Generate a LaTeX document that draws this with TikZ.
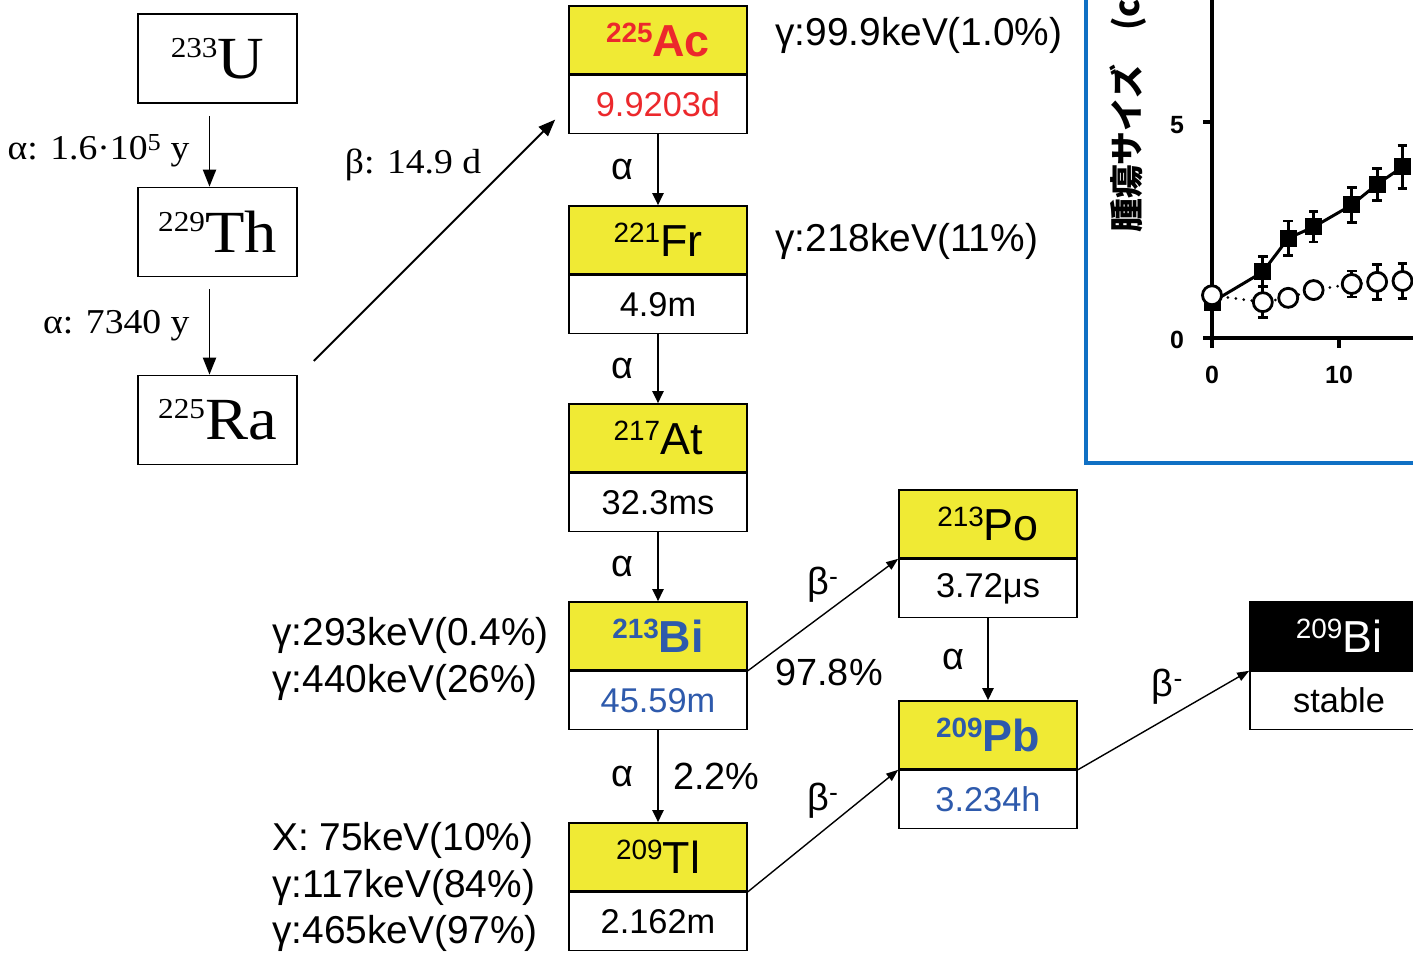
\documentclass[tikz,border=0pt]{standalone}
\usepackage{fontspec}
\setmainfont{Liberation Sans}
\newfontfamily\tms[FakeStretch=1.08]{Liberation Serif}
\newfontfamily\cjk{Noto Sans CJK JP}
\usetikzlibrary{arrows.meta,positioning}
\definecolor{nyellow}{RGB}{240,234,52}
\definecolor{nred}{RGB}{236,40,44}
\definecolor{nblue}{RGB}{46,90,172}
\definecolor{frameblue}{RGB}{16,112,196}
\newcommand{\fsz}[1]{\fontsize{#1}{#1}\selectfont}
\newcommand{\iso}[2]{\raisebox{14bp}{\fsz{28}#1}#2}
\newcommand{\isot}[2]{\raisebox{21bp}{\fsz{29}#1}#2}

\begin{document}
\begin{tikzpicture}[
  x=1bp, y=-1bp,
  lbox/.style={draw, line width=1.6bp, minimum width=159bp,
    minimum height=89bp, inner sep=0pt, font=\tms\fsz{60}},
  nucl/.style={draw, line width=1.6bp, fill=nyellow, minimum width=178bp,
    minimum height=68bp, inner sep=0pt, font=\fsz{45}},
  half/.style={draw, line width=1.6bp, fill=white, minimum width=178bp,
    minimum height=58bp, inner sep=0pt, font=\fsz{34.5}, below=0pt of #1},
  arrow/.style={-{Triangle[length=12bp, width=11bp]}, line width=2.3bp},
  diag/.style={-{Triangle[length=12bp, width=9bp]}, line width=1.4bp},
  tarrow/.style={-{Triangle[length=17bp, width=13bp]}, line width=1.9bp},
  lab/.style={font=\fsz{38}, inner sep=0pt},
  glab/.style={font=\fontsize{39}{47}\selectfont, anchor=west, align=left,
    inner sep=0pt},
  tlab/.style={font=\tms\fsz{35}, inner sep=0pt},
  ticklab/.style={font=\bfseries\fsz{25}, inner sep=0pt},
]
  \useasboundingbox (0,0) rectangle (1413,954);

  % Tumour size plot (cut off)
  \draw[frameblue, line width=3.2bp] (1086,-20) rectangle (1440,463);
  \node[rotate=90, anchor=west, font=\cjk\bfseries\fsz{34}, inner sep=0pt]
    (ylab) at (1128,233) {腫瘍サイズ　(c};
  \begin{scope}[shift={(1212,338)}, x=12.7bp, y=43.2bp]
    \draw[line width=3.2bp] (0,10) -- (0,0) -- (17,0);
    \draw[line width=3.2bp] (-0.7,0) -- (0,0) (-0.7,5) -- (0,5);
    \draw[line width=3.2bp] (0,0) -- (0,-0.22) (10,0) -- (10,-0.22);
    \node[ticklab] (y5) at (-2.76,4.93) {5};
    \node[ticklab] (y0) at (-2.76,-0.05) {0};
    \node[ticklab] (x0) at (0,-0.86) {0};
    \node[ticklab] (x10) at (10,-0.86) {10};
    % error bars
    \foreach \d/\v/\e in {4/1.53/0.35, 6/2.31/0.4, 8/2.57/0.35,
        11/3.08/0.4, 13/3.56/0.37, 15/3.96/0.5,
        4/0.83/0.36, 8/1.11/0.12, 11/1.25/0.3, 13/1.30/0.4, 15/1.32/0.4}
      \draw[line width=2.8bp] (\d,\v-\e) -- (\d,\v+\e)
        ({\d-0.38},\v-\e) -- ({\d+0.38},\v-\e)
        ({\d-0.38},\v+\e) -- ({\d+0.38},\v+\e);
    \draw[line width=3bp] plot coordinates {(0,0.83) (4,1.53) (6,2.31)
      (8,2.57) (11,3.08) (13,3.56) (15,3.96)};
    \draw[line width=3bp, dash pattern=on 0pt off 8bp, line cap=round]
      plot coordinates {(0,0.99) (4,0.83) (6,0.93) (8,1.11) (11,1.25)
      (13,1.30) (15,1.32)};
    \foreach \d/\v in {0/0.83, 4/1.53, 6/2.31, 8/2.57, 11/3.08, 13/3.56,
        15/3.96}
      \fill (\d,\v) ++(-8.5bp,-8.5bp) rectangle ++(17bp,17bp);
    \foreach \d/\v in {0/0.99, 4/0.83, 6/0.93, 8/1.11, 11/1.25, 13/1.30,
        15/1.32}
      \draw[line width=2.8bp, fill=white] (\d,\v) circle[radius=9.5bp];
  \end{scope}

  % Actinium chain
  \node[nucl] (ac) at (658,40) {\color{nred}\bfseries\iso{225}{Ac}};
  \node[half=ac, text=nred] (acT) {9.9203d};
  \node[nucl] (fr) at (658,240) {\iso{221}{Fr}};
  \node[half=fr] (frT) {4.9m};
  \node[nucl] (ast) at (658,438) {\iso{217}{At}};
  \node[half=ast] (astT) {32.3ms};
  \node[nucl] (bi) at (658,636) {\color{nblue}\bfseries\iso{213}{Bi}};
  \node[half=bi, text=nblue] (biT) {45.59m};
  \node[nucl] (tl) at (658,857) {\iso{209}{Tl}};
  \node[half=tl] (tlT) {2.162m};
  \node[nucl] (po) at (988,524) {\iso{213}{Po}};
  \node[half=po] (poT) {3.72μs};
  \node[nucl] (pb) at (988,735) {\color{nblue}\bfseries\iso{209}{Pb}};
  \node[half=pb, text=nblue] (pbT) {3.234h};
  \node[nucl, fill=black, text=white] (bis) at (1339,636) {\iso{209}{Bi}};
  \node[half=bis] (bisT) {stable};

  \draw[arrow] (acT) -- (fr) node[lab, midway, left=23bp] {α};
  \draw[arrow] (frT) -- (ast) node[lab, midway, left=23bp] {α};
  \draw[arrow] (astT) -- (bi) node[lab, midway, left=23bp] {α};
  \draw[arrow] (biT) -- (tl) node[lab, midway, left=23bp] {α}
    node[lab, midway, right=14bp] {2.2\%};
  \draw[arrow] (poT) -- (pb) node[lab, midway, left=22bp] {α};
  \draw[diag] (bi.south east) -- (po.south west)
    node[lab, midway, above=12bp] {β\textsuperscript{-}};
  \draw[diag] (tl.south east) -- (pb.south west)
    node[lab, midway, above=12bp] {β\textsuperscript{-}};
  \draw[diag] (pb.south east) -- (bis.south west)
    node[lab, midway, above=15bp, xshift=4bp] {β\textsuperscript{-}};
  \node[lab] (brPo) at (829,672) {97.8\%};

  % Gamma lines
  \node[glab] (gAc) at (775,35) {γ:99.9keV(1.0\%)};
  \node[glab] (gFr) at (775,241) {γ:218keV(11\%)};
  \node[glab] (gBi) at (272,659) {γ:293keV(0.4\%)\\γ:440keV(26\%)};
  \node[glab] (gTl) at (272,887)
    {X: 75keV(10\%)\\γ:117keV(84\%)\\γ:465keV(97\%)};

  % Uranium-233 source
  \node[lbox] (u) at (217.5,58.5) {\isot{233}{U}};
  \node[lbox] (th) at (217.5,232) {\isot{229}{Th}};
  \node[lbox] (ra) at (217.5,420) {\isot{225}{Ra}};
  \draw[tarrow] ([xshift=-8bp,yshift=-12bp]u.south) -- ([xshift=-8bp]th.north)
    node[tlab, midway, left=19bp] {α: 1.6·10\textsuperscript{5} y};
  \draw[tarrow] ([xshift=-8bp,yshift=-12bp]th.south) -- ([xshift=-8bp]ra.north)
    node[tlab, pos=0.42, left=19bp] {α: 7340 y};
  \draw[tarrow] ([xshift=16bp,yshift=59bp]ra.east)
    -- ([xshift=-13bp,yshift=-15bp]acT.west);
  \node[tlab] (bRa) at (413,165) {β: 14.9 d};
\end{tikzpicture}
\end{document}
